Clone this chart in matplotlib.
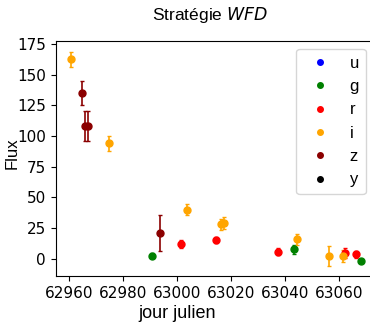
import matplotlib
matplotlib.use("Agg")
import matplotlib.pyplot as plt

filters = ["u", "g", "r", "i", "z", "y"]
colors = {"u": "blue", "g": "green", "r": "red", "i": "orange", "z": "darkred", "y": "black"}

# observations per filter: (mjd, flux, err)
obs_g_t = [62990.7, 63043.1, 63068.0]
obs_g_f = [2.5, 7.6, -1.6]
obs_g_e = [2.0, 3.5, 1.5]

obs_r_t = [63001.4, 63014.4, 63037.3, 63062.1, 63066.0]
obs_r_f = [12.0, 15.0, 5.7, 4.4, 3.6]
obs_r_e = [3.0, 2.5, 3.0, 4.0, 3.0]

obs_i_t = [62960.7, 62974.8, 63003.6, 63016.4, 63017.4, 63044.3, 63056.1, 63061.2]
obs_i_f = [162.5, 94.0, 40.0, 28.0, 29.0, 16.0, 2.2, 2.5]
obs_i_e = [6.0, 6.0, 4.6, 4.5, 5.0, 4.5, 8.0, 5.0]

obs_z_t = [62964.7, 62965.9, 62966.9, 62993.6]
obs_z_f = [135.0, 108.0, 108.0, 21.0]
obs_z_e = [10.0, 12.0, 12.0, 14.5]

data = {
    "g": (obs_g_t, obs_g_f, obs_g_e),
    "r": (obs_r_t, obs_r_f, obs_r_e),
    "i": (obs_i_t, obs_i_f, obs_i_e),
    "z": (obs_z_t, obs_z_f, obs_z_e),
}

W, H = 370, 322
fig = plt.figure(figsize=(W / 100, H / 100), dpi=100)
L, R, T, B = 55.7, 374, 40.7, 276
ax = fig.add_axes([L / W, 1 - B / H, (R - L) / W, (B - T) / H])

for f, (t, fl, e) in data.items():
    ax.errorbar(t, fl, yerr=e, fmt="o", color=colors[f], ms=5, capsize=1.5, elinewidth=1.2)

for f in filters:
    ax.plot([], [], "o", color=colors[f], ms=4, label=f)

ax.set_xticks([62960, 62980, 63000, 63020, 63040, 63060])
ax.set_yticks([0, 25, 50, 75, 100, 125, 150, 175])
ax.tick_params(labelsize=11)
ax.set_xlim(62955.1, 63072.8)
ax.set_ylim(-14.1, 177.7)

lab_font = "Liberation Sans"
xl = ax.set_xlabel("jour julien", fontsize=13, family=lab_font, va="center")
ax.xaxis.set_label_coords((177 - L) / (R - L), (B - 313) / (B - T))
yl = ax.set_ylabel("Flux", fontsize=12, family=lab_font, va="center")
ax.yaxis.set_label_coords((12 - L) / (R - L), (B - 153) / (B - T))
fig.text(210 / W, 1 - 15 / H, "Stratégie $\\it{WFD}$", fontsize=12.5,
         family=lab_font, ha="center", va="center")
leg = ax.legend(loc="upper right", prop={"family": lab_font, "size": 12})

fig.savefig("out.png", dpi=100)
